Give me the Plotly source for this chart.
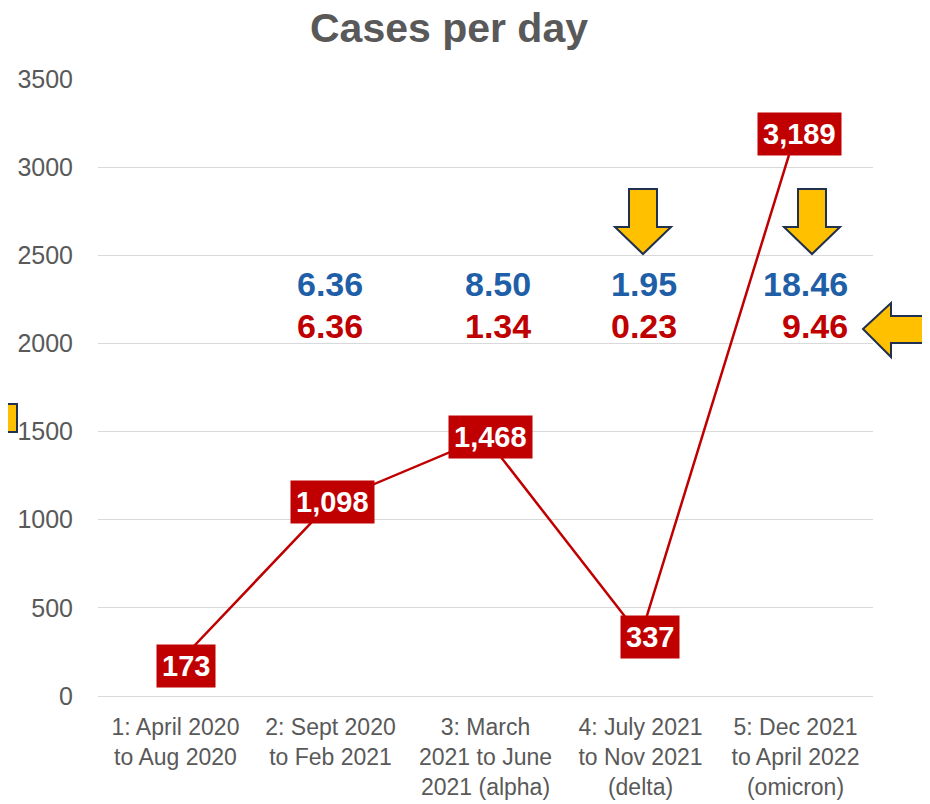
import plotly.graph_objects as go

# ---------------- data ----------------
categories = [
    "1: April 2020<br>to Aug 2020",
    "2: Sept 2020<br>to Feb 2021",
    "3: March<br>2021 to June<br>2021 (alpha)",
    "4: July 2021<br>to Nov 2021<br>(delta)",
    "5: Dec 2021<br>to April 2022<br>(omicron)",
]
cases_per_day = [173, 1098, 1468, 337, 3189]
case_labels = ["173", "1,098", "1,468", "337", "3,189"]

blue_ratios = ["", "6.36", "8.50", "1.95", "18.46"]
red_ratios = ["", "6.36", "1.34", "0.23", "9.46"]

y_ticks = [0, 500, 1000, 1500, 2000, 2500, 3000, 3500]

# ---------------- layout geometry (pixels) ----------------
# the page body adds an 8px offset; screen coordinates are converted below
OFF = 8
W, H = 930, 804
L, R, T, B = 90, 65, 71, 116
PW, PH = W - L - R, H - T - B


def px(x):
    """screen x -> paper x"""
    return (x - OFF - L) / PW


def py(y):
    """screen y -> paper y"""
    return (H - B - (y - OFF)) / PH


GREY = "#595959"
RED = "#C00000"
BLUE = "#1F5FA8"
YELLOW = "#FFC000"
NAVY = "#1F3050"
FONT = "Arial, Liberation Sans, sans-serif"

fig = go.Figure()
fig.add_trace(go.Scatter(
    x=categories, y=cases_per_day, mode="lines",
    line=dict(color=RED, width=2.5), hoverinfo="skip", showlegend=False,
))

annotations = []
label_xshift = [10, 2, 5, 9, 4]
for c, v, t, s in zip(categories, cases_per_day, case_labels, label_xshift):
    annotations.append(dict(
        x=c, y=v, xref="x", yref="y", text=f"<b>{t}</b>", showarrow=False,
        font=dict(family=FONT, size=29, color="white"),
        bgcolor=RED, borderpad=5, xshift=s,
    ))

# ratio numbers (right-aligned columns)
right_edges = [None, 365, 533, 679, 850]
for b, r, e in zip(blue_ratios, red_ratios, right_edges):
    if not b:
        continue
    annotations.append(dict(
        x=px(e), y=py(284), xref="paper", yref="paper", xanchor="right", yanchor="middle",
        text=f"<b>{b}</b>", showarrow=False, font=dict(family=FONT, size=34, color=BLUE),
    ))
    annotations.append(dict(
        x=px(e), y=py(326), xref="paper", yref="paper", xanchor="right", yanchor="middle",
        text=f"<b>{r}</b>", showarrow=False, font=dict(family=FONT, size=34, color=RED),
    ))


def path(points):
    return "M " + " L ".join(f"{px(x)},{py(y)}" for x, y in points) + " Z"


def down_arrow(cx):
    pts = [(cx - 14, 189), (cx + 14, 189), (cx + 14, 227), (cx + 28, 227),
           (cx, 254), (cx - 28, 227), (cx - 14, 227)]
    return path(pts)


shapes = []
for cx in (643, 812):
    shapes.append(dict(type="path", xref="paper", yref="paper", path=down_arrow(cx),
                       fillcolor=YELLOW, line=dict(color=NAVY, width=2), layer="above"))
left_pts = [(863, 329), (891, 303), (891, 316), (935, 316), (935, 343), (891, 343), (891, 357)]
shapes.append(dict(type="path", xref="paper", yref="paper", path=path(left_pts),
                   fillcolor=YELLOW, line=dict(color=NAVY, width=2), layer="above"))
shapes.append(dict(type="rect", xref="paper", yref="paper",
                   x0=px(-5), x1=px(17), y0=py(432), y1=py(404),
                   fillcolor=YELLOW, line=dict(color=NAVY, width=2), layer="above"))

fig.update_layout(
    width=W, height=H,
    margin=dict(l=L, r=R, t=T, b=B),
    paper_bgcolor="white", plot_bgcolor="white",
    title=dict(text="<b>Cases per day</b>", x=(449 - OFF) / W, xanchor="center",
               y=1 - (28 - OFF) / H, yanchor="middle",
               font=dict(family=FONT, size=41, color=GREY)),
    xaxis=dict(showgrid=False, showline=False, zeroline=False, ticks="",
               range=[-0.5, 4.5], automargin=False, ticklabelstandoff=15,
               tickfont=dict(family=FONT, size=23, color=GREY)),
    yaxis=dict(range=[0, 3500], tickvals=y_ticks, showgrid=True, gridcolor="#D9D9D9",
               gridwidth=1, zeroline=True, zerolinecolor="#D9D9D9", zerolinewidth=1,
               showline=False, ticks="", ticklabelstandoff=24, automargin=False,
               tickfont=dict(family=FONT, size=25, color=GREY)),
    annotations=annotations, shapes=shapes,
    showlegend=False,
)

fig.write_html("out.html")
